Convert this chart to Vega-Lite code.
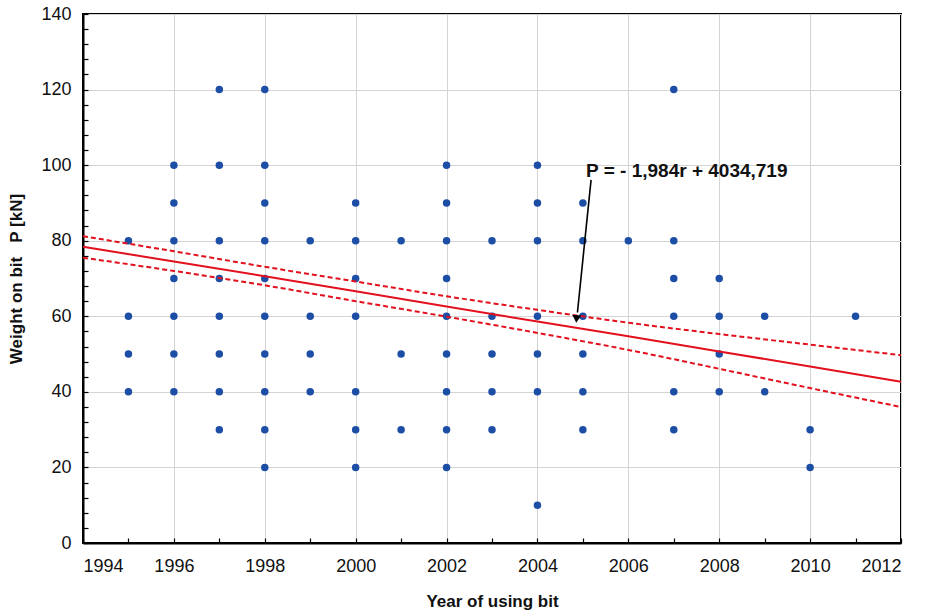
{
  "$schema": "https://vega.github.io/schema/vega-lite/v6.json",
  "width": 818,
  "height": 529,
  "autosize": "none",
  "padding": {"left": 83, "top": 14, "right": 28, "bottom": 68},
  "background": "white",
  "config": {
    "view": {"stroke": "black", "strokeWidth": 2},
    "axis": {"labelFont": "Liberation Sans", "labelFontSize": 18, "labelColor": "#111", "titleFont": "Liberation Sans", "titleFontSize": 17, "titleFontWeight": "bold", "titleColor": "#111", "gridColor": "#d4d4d4", "gridWidth": 1, "domainColor": "black", "domainWidth": 2, "tickColor": "black", "tickSize": -5, "tickWidth": 1.2, "labelOverlap": false, "tickCount": 200}
  },
  "datasets": {
    "obs": [
      {"year": 1995, "P": 80}, {"year": 1995, "P": 60}, {"year": 1995, "P": 50}, {"year": 1995, "P": 40},
      {"year": 1996, "P": 100}, {"year": 1996, "P": 90}, {"year": 1996, "P": 80}, {"year": 1996, "P": 70}, {"year": 1996, "P": 60}, {"year": 1996, "P": 50}, {"year": 1996, "P": 40},
      {"year": 1997, "P": 120}, {"year": 1997, "P": 100}, {"year": 1997, "P": 80}, {"year": 1997, "P": 70}, {"year": 1997, "P": 60}, {"year": 1997, "P": 50}, {"year": 1997, "P": 40}, {"year": 1997, "P": 30},
      {"year": 1998, "P": 120}, {"year": 1998, "P": 100}, {"year": 1998, "P": 90}, {"year": 1998, "P": 80}, {"year": 1998, "P": 70}, {"year": 1998, "P": 60}, {"year": 1998, "P": 50}, {"year": 1998, "P": 40}, {"year": 1998, "P": 30}, {"year": 1998, "P": 20},
      {"year": 1999, "P": 80}, {"year": 1999, "P": 60}, {"year": 1999, "P": 50}, {"year": 1999, "P": 40},
      {"year": 2000, "P": 90}, {"year": 2000, "P": 80}, {"year": 2000, "P": 70}, {"year": 2000, "P": 60}, {"year": 2000, "P": 40}, {"year": 2000, "P": 30}, {"year": 2000, "P": 20},
      {"year": 2001, "P": 80}, {"year": 2001, "P": 50}, {"year": 2001, "P": 30},
      {"year": 2002, "P": 100}, {"year": 2002, "P": 90}, {"year": 2002, "P": 80}, {"year": 2002, "P": 70}, {"year": 2002, "P": 60}, {"year": 2002, "P": 50}, {"year": 2002, "P": 40}, {"year": 2002, "P": 30}, {"year": 2002, "P": 20},
      {"year": 2003, "P": 80}, {"year": 2003, "P": 60}, {"year": 2003, "P": 50}, {"year": 2003, "P": 40}, {"year": 2003, "P": 30},
      {"year": 2004, "P": 100}, {"year": 2004, "P": 90}, {"year": 2004, "P": 80}, {"year": 2004, "P": 60}, {"year": 2004, "P": 50}, {"year": 2004, "P": 40}, {"year": 2004, "P": 10},
      {"year": 2005, "P": 90}, {"year": 2005, "P": 80}, {"year": 2005, "P": 60}, {"year": 2005, "P": 50}, {"year": 2005, "P": 40}, {"year": 2005, "P": 30},
      {"year": 2006, "P": 80},
      {"year": 2007, "P": 120}, {"year": 2007, "P": 80}, {"year": 2007, "P": 70}, {"year": 2007, "P": 60}, {"year": 2007, "P": 40}, {"year": 2007, "P": 30},
      {"year": 2008, "P": 70}, {"year": 2008, "P": 60}, {"year": 2008, "P": 50}, {"year": 2008, "P": 40},
      {"year": 2009, "P": 60}, {"year": 2009, "P": 40},
      {"year": 2010, "P": 30}, {"year": 2010, "P": 20},
      {"year": 2011, "P": 60}
    ],
    "fit": [
      {"year": 1994, "fit": 78.4, "lo": 75.5, "hi": 81.2},
      {"year": 1996, "fit": 74.5, "lo": 72.0, "hi": 77.2},
      {"year": 1998, "fit": 70.6, "lo": 68.2, "hi": 73.1},
      {"year": 2000, "fit": 66.6, "lo": 64.0, "hi": 69.2},
      {"year": 2002, "fit": 62.6, "lo": 59.9, "hi": 65.3},
      {"year": 2004, "fit": 58.6, "lo": 55.6, "hi": 61.7},
      {"year": 2006, "fit": 54.7, "lo": 51.1, "hi": 58.3},
      {"year": 2008, "fit": 50.7, "lo": 46.1, "hi": 55.3},
      {"year": 2010, "fit": 46.7, "lo": 41.0, "hi": 52.5},
      {"year": 2012, "fit": 42.7, "lo": 36.0, "hi": 49.7}
    ],
    "note": [
      {"tx": 2005.07, "ty": 96.85, "x": 2005.18, "y": 96.1, "x2": 2004.88, "y2": 61.0, "ax": 2004.86, "ay": 59.3, "label": "P = - 1,984r + 4034,719"}
    ]
  },
  "layer": [
    {
      "data": {"name": "obs"},
      "mark": {"type": "point", "filled": true, "size": 56, "opacity": 1, "color": "#1d4ea6"},
      "encoding": {
        "x": {"field": "year", "type": "quantitative", "scale": {"domain": [1994, 2012], "nice": false, "zero": false},
              "axis": {"values": [1994, 1995, 1996, 1997, 1998, 1999, 2000, 2001, 2002, 2003, 2004, 2005, 2006, 2007, 2008, 2009, 2010, 2011, 2012],
                       "labelExpr": "datum.value % 2 === 0 ? datum.label : ''",
                       "gridOpacity": {"condition": {"test": "datum.value % 2 === 0", "value": 1}, "value": 0},
                       "format": "d", "title": "Year of using bit", "titlePadding": 18, "labelPadding": 19}},
        "y": {"field": "P", "type": "quantitative", "scale": {"domain": [0, 140], "nice": false},
              "axis": {"values": [0, 4, 8, 12, 16, 20, 24, 28, 32, 36, 40, 44, 48, 52, 56, 60, 64, 68, 72, 76, 80, 84, 88, 92, 96, 100, 104, 108, 112, 116, 120, 124, 128, 132, 136, 140],
                       "labelExpr": "datum.value % 20 === 0 ? datum.label : ''",
                       "gridOpacity": {"condition": {"test": "datum.value % 20 === 0", "value": 1}, "value": 0},
                       "format": "d", "title": "Weight on bit\u00a0\u00a0\u00a0P [kN]", "titlePadding": 15, "labelPadding": 17}}
      }
    },
    {
      "data": {"name": "fit"},
      "mark": {"type": "line", "color": "#e3101e", "strokeWidth": 2},
      "encoding": {"x": {"field": "year", "type": "quantitative"}, "y": {"field": "fit", "type": "quantitative"}}
    },
    {
      "data": {"name": "fit"},
      "mark": {"type": "line", "color": "#e3101e", "strokeWidth": 2, "strokeDash": [5, 3], "interpolate": "monotone"},
      "encoding": {"x": {"field": "year", "type": "quantitative"}, "y": {"field": "hi", "type": "quantitative"}}
    },
    {
      "data": {"name": "fit"},
      "mark": {"type": "line", "color": "#e3101e", "strokeWidth": 2, "strokeDash": [5, 3], "interpolate": "monotone"},
      "encoding": {"x": {"field": "year", "type": "quantitative"}, "y": {"field": "lo", "type": "quantitative"}}
    },
    {
      "data": {"name": "note"},
      "mark": {"type": "rule", "color": "black", "strokeWidth": 1.6},
      "encoding": {"x": {"field": "x", "type": "quantitative"}, "y": {"field": "y", "type": "quantitative"}, "x2": {"field": "x2"}, "y2": {"field": "y2"}}
    },
    {
      "data": {"name": "note"},
      "mark": {"type": "point", "shape": "triangle-down", "filled": true, "color": "black", "size": 80, "opacity": 1, "angle": 4},
      "encoding": {"x": {"field": "ax", "type": "quantitative"}, "y": {"field": "ay", "type": "quantitative"}}
    },
    {
      "data": {"name": "note"},
      "mark": {"type": "text", "align": "left", "baseline": "alphabetic", "font": "Liberation Sans", "fontSize": 19, "fontWeight": "bold", "color": "#111"},
      "encoding": {"x": {"field": "tx", "type": "quantitative"}, "y": {"field": "ty", "type": "quantitative"}, "text": {"field": "label"}}
    }
  ]
}
